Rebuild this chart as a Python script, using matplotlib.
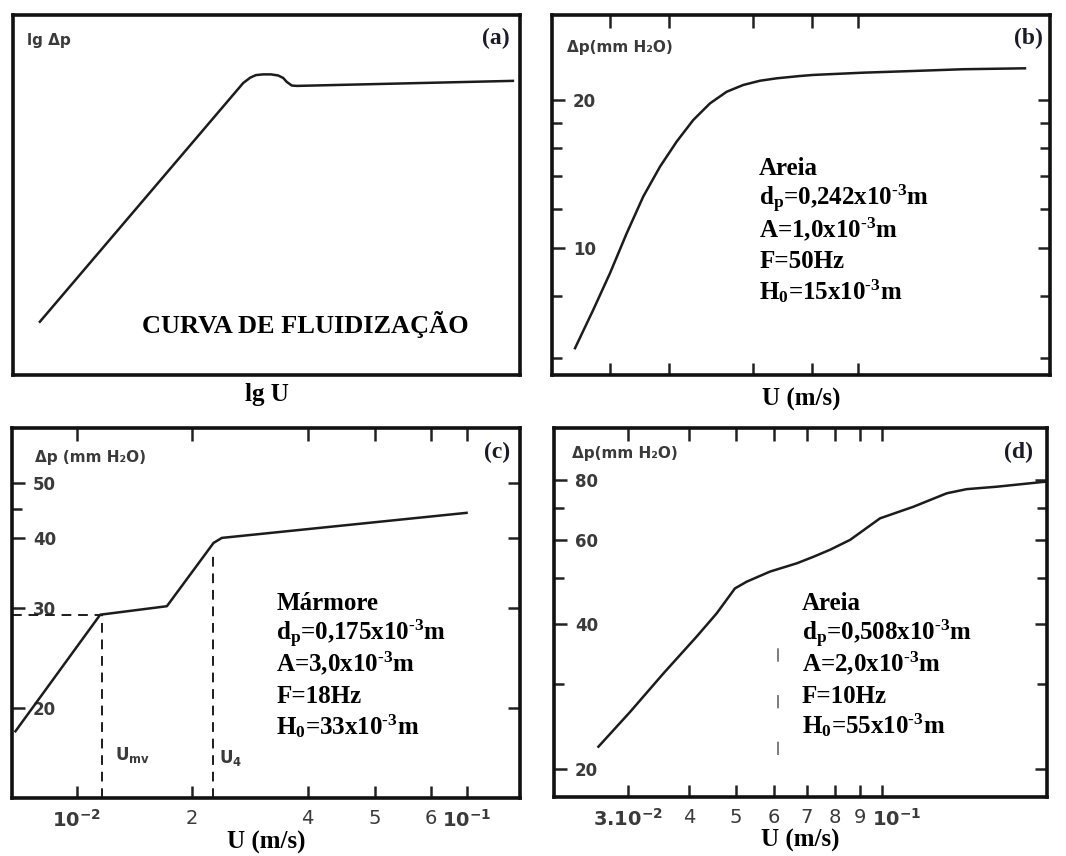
import matplotlib
matplotlib.use("Agg")
import matplotlib.pyplot as plt
from matplotlib.ticker import NullFormatter, NullLocator
from matplotlib.transforms import ScaledTranslation

plt.rcParams['mathtext.fontset'] = 'custom'
plt.rcParams['mathtext.rm'] = 'Liberation Serif:bold'
plt.rcParams['mathtext.it'] = 'Liberation Serif:bold'
plt.rcParams['mathtext.bf'] = 'Liberation Serif:bold'
plt.rcParams['mathtext.sf'] = 'DejaVu Sans:bold'

# (a) generic fluidization curve, lg U vs lg dp (relative units)
a_x = [0.053, 0.454, 0.468, 0.479, 0.493, 0.509, 0.523, 0.533, 0.540,
       0.550, 0.560, 0.986]
a_y = [0.148, 0.811, 0.826, 0.833, 0.835, 0.835, 0.832, 0.825, 0.814,
       0.804, 0.803, 0.817]

# (b) sand, dp=0.242 mm
b_u = [0.01264, 0.01381, 0.01498, 0.01625, 0.01761, 0.01911, 0.02072,
       0.02246, 0.02437, 0.02643, 0.02865, 0.03108, 0.03371, 0.03776,
       0.04021, 0.05128, 0.06537, 0.08338, 0.1127]
b_dp = [6.27, 7.50, 8.90, 10.73, 12.74, 14.66, 16.48, 18.23, 19.71, 20.81,
        21.48, 21.91, 22.16, 22.40, 22.51, 22.75, 22.93, 23.12, 23.22]
b_yticks = [10, 20]
b_yminor = [6, 8, 12, 14, 16, 18]
b_xticks = [0.015, 0.02, 0.03, 0.04, 0.05]

# (c) marble, dp=0.175 mm
c_u = [0.00691, 0.01150, 0.01717, 0.02273, 0.02389, 0.1040]
c_dp = [18.19, 29.25, 30.28, 39.19, 40.0, 44.3]
c_umv = 0.01162
c_dp_mv = 29.25
c_u4 = 0.0226
c_dp_4 = 37.85
c_yticks = [20, 30, 40, 50]
c_yminor = [45]
c_xticks = [0.01, 0.02, 0.04, 0.06, 0.084, 0.104]
c_xlabels = [r'$\mathsf{10^{-2}}$', '2', '4', '5', '6', r'$\mathsf{10^{-1}}$']

# (d) sand, dp=0.508 mm
d_u = [0.02601, 0.03024, 0.03544, 0.04149, 0.04559, 0.04976, 0.05264,
       0.05879, 0.06683, 0.07229, 0.07823, 0.08603, 0.09917, 0.1162,
       0.1362, 0.1497, 0.1727, 0.2180]
d_dp = [22.22, 26.26, 31.6, 37.7, 42.1, 47.5, 49.07, 51.5, 53.6, 55.3,
        57.2, 59.97, 66.5, 70.3, 75.0, 76.5, 77.4, 79.3]
d_yticks = [20, 40, 60, 80]
d_yminor = [30, 50, 70]
d_xticks = [0.03, 0.04, 0.05, 0.06, 0.07, 0.08, 0.09, 0.1]
d_xlabels = [r'$\mathsf{3.10^{-2}}$', '4', '5', '6', '7', '8', '9',
             r'$\mathsf{10^{-1}}$']
d_guide_u = 0.061
d_guide_dp = [21.3, 39.3]

# experiment conditions printed inside panels b, c, d
b_info = ['Areia', r'd$_{\rm p}$=0,242x10$^{\text{-3}}$m',
          r'A=1,0x10$^{\text{-3}}$m', 'F=50Hz',
          r'H$_{\rm 0}$=15x10$^{\text{-3}}$m']
c_info = ['Mármore', r'd$_{\rm p}$=0,175x10$^{\text{-3}}$m',
          r'A=3,0x10$^{\text{-3}}$m', 'F=18Hz',
          r'H$_{\rm 0}$=33x10$^{\text{-3}}$m']
d_info = ['Areia', r'd$_{\rm p}$=0,508x10$^{\text{-3}}$m',
          r'A=2,0x10$^{\text{-3}}$m', 'F=10Hz',
          r'H$_{\rm 0}$=55x10$^{\text{-3}}$m']

ink = '#1c1c1c'
gray = '#3a3a3a'
serif = 'Liberation Serif'

fig = plt.figure(figsize=(10.66, 8.56), dpi=100)
ax_a = fig.add_axes([0.0122, 0.5619, 0.4756, 0.4206])
ax_b = fig.add_axes([0.5178, 0.5619, 0.4672, 0.4206])
ax_c = fig.add_axes([0.0113, 0.0678, 0.4765, 0.4322])
ax_d = fig.add_axes([0.5197, 0.0689, 0.4625, 0.4311])

for ax in (ax_a, ax_b, ax_c, ax_d):
    for s in ax.spines.values():
        s.set_linewidth(2.6)
        s.set_color('#111111')
    ax.tick_params(which='both', direction='in', top=True, right=True,
                   width=1.8, colors='#222222', labelcolor=gray)
    ax.tick_params(which='major', length=9)
    ax.tick_params(which='minor', length=7)


def info_block(ax, x, y0, step, lines):
    for i, s in enumerate(lines):
        ax.text(x, y0 - i * step, s, transform=ax.transAxes, fontsize=18,
                fontweight='bold', family=serif, va='baseline')


# ---- (a)
ax_a.plot(a_x, a_y, color=ink, lw=1.8, solid_joinstyle='round')
ax_a.set_xlim(0, 1)
ax_a.set_ylim(0, 1)
ax_a.set_xticks([])
ax_a.set_yticks([])
ax_a.text(0.028, 0.93, 'lg Δp', transform=ax_a.transAxes, fontsize=11,
          fontweight='bold', color=gray, va='center')
ax_a.text(0.254, 0.117, 'CURVA DE FLUIDIZAÇÃO', transform=ax_a.transAxes,
          fontsize=19, fontweight='bold', family=serif, color='black')
ax_a.set_xlabel('lg U', family=serif, fontweight='bold', fontsize=18,
                labelpad=6)

# ---- (b)
ax_b.plot(b_u, b_dp, color=ink, lw=1.8)
ax_b.set_xscale('log')
ax_b.set_yscale('log')
ax_b.set_xlim(0.0113, 0.1273)
ax_b.set_ylim(5.53, 29.8)
ax_b.set_xticks(b_xticks, [''] * len(b_xticks))
ax_b.xaxis.set_minor_locator(NullLocator())
ax_b.set_yticks(b_yticks, [str(v) for v in b_yticks])
ax_b.set_yticks(b_yminor, minor=True)
ax_b.yaxis.set_minor_formatter(NullFormatter())
ax_b.text(0.03, 0.911, 'Δp(mm H₂O)', transform=ax_b.transAxes,
          fontsize=11, fontweight='bold', color=gray, va='center')
info_block(ax_b, 0.416, 0.556, 0.0862, b_info)
ax_b.set_xlabel('U (m/s)', family=serif, fontweight='bold', fontsize=18,
                labelpad=6)

# ---- (c)
ax_c.plot(c_u, c_dp, color=ink, lw=1.8)
ax_c.set_xscale('log')
ax_c.set_yscale('log')
ax_c.set_xlim(0.00677, 0.1434)
ax_c.set_ylim(13.86, 62.6)
ax_c.plot([0.00677, c_umv], [c_dp_mv, c_dp_mv], color=ink, lw=1.4,
          dashes=(5, 3.5))
ax_c.plot([c_umv, c_umv], [13.86, c_dp_mv], color=ink, lw=1.4,
          dashes=(5, 3.5))
ax_c.plot([c_u4, c_u4], [13.86, c_dp_4], color=ink, lw=1.4,
          dashes=(5, 3.5))
ax_c.set_xticks(c_xticks, c_xlabels)
ax_c.xaxis.set_minor_locator(NullLocator())
ax_c.set_yticks(c_yticks, [str(v) for v in c_yticks])
ax_c.set_yticks(c_yminor, minor=True)
ax_c.yaxis.set_minor_formatter(NullFormatter())
ax_c.tick_params(which='minor', right=False)
ax_c.text(0.045, 0.92, 'Δp (mm H₂O)', transform=ax_c.transAxes,
          fontsize=11, fontweight='bold', color=gray, va='center')
ax_c.text(c_umv * 1.08, 16.2, r'$\mathsf{U_{mv}}$', fontsize=12,
          color=gray)
ax_c.text(c_u4 * 1.04, 16.0, r'$\mathsf{U_4}$', fontsize=12, color=gray)
info_block(ax_c, 0.52, 0.509, 0.0840, c_info)
ax_c.set_xlabel('U (m/s)', family=serif, fontweight='bold', fontsize=18,
                labelpad=0)

# ---- (d)
ax_d.plot(d_u, d_dp, color=ink, lw=1.8)
ax_d.set_xscale('log')
ax_d.set_yscale('log')
ax_d.set_xlim(0.02106, 0.2193)
ax_d.set_ylim(17.45, 102.6)
ax_d.plot([d_guide_u, d_guide_u], d_guide_dp, color='#666666', lw=1.2,
          dashes=(8, 20))
ax_d.set_xticks(d_xticks, d_xlabels)
ax_d.xaxis.set_minor_locator(NullLocator())
ax_d.set_yticks(d_yticks, [str(v) for v in d_yticks])
ax_d.set_yticks(d_yminor, minor=True)
ax_d.yaxis.set_minor_formatter(NullFormatter())
ax_d.text(0.037, 0.932, 'Δp(mm H₂O)', transform=ax_d.transAxes,
          fontsize=11, fontweight='bold', color=gray, va='center')
info_block(ax_d, 0.503, 0.508, 0.0842, d_info)
ax_d.set_xlabel('U (m/s)', family=serif, fontweight='bold', fontsize=18,
                labelpad=-1)

# inner y tick labels and larger x tick labels
for ax in (ax_b, ax_c, ax_d):
    ax.tick_params(axis='y', which='major', pad=-15, labelsize=12)
    for lbl in ax.get_yticklabels():
        lbl.set_horizontalalignment('left')
        lbl.set_fontweight('bold')
for ax in (ax_c, ax_d):
    ax.tick_params(axis='x', which='major', pad=8, labelsize=14)

# the 10^-1 label in (d) sits a little right of its tick
last = ax_d.get_xticklabels()[-1]
last.set_transform(last.get_transform() +
                   ScaledTranslation(11 / 72, 0, fig.dpi_scale_trans))

# panel letters
for ax, tag, xr in ((ax_a, '(a)', 0.98), (ax_b, '(b)', 0.986),
                    (ax_c, '(c)', 0.98), (ax_d, '(d)', 0.972)):
    ax.text(xr, 0.935, tag, transform=ax.transAxes, ha='right', va='center',
            fontsize=17, fontweight='bold', family=serif, color='#1a1a28')

fig.savefig('out.png', dpi=100, facecolor='white')
